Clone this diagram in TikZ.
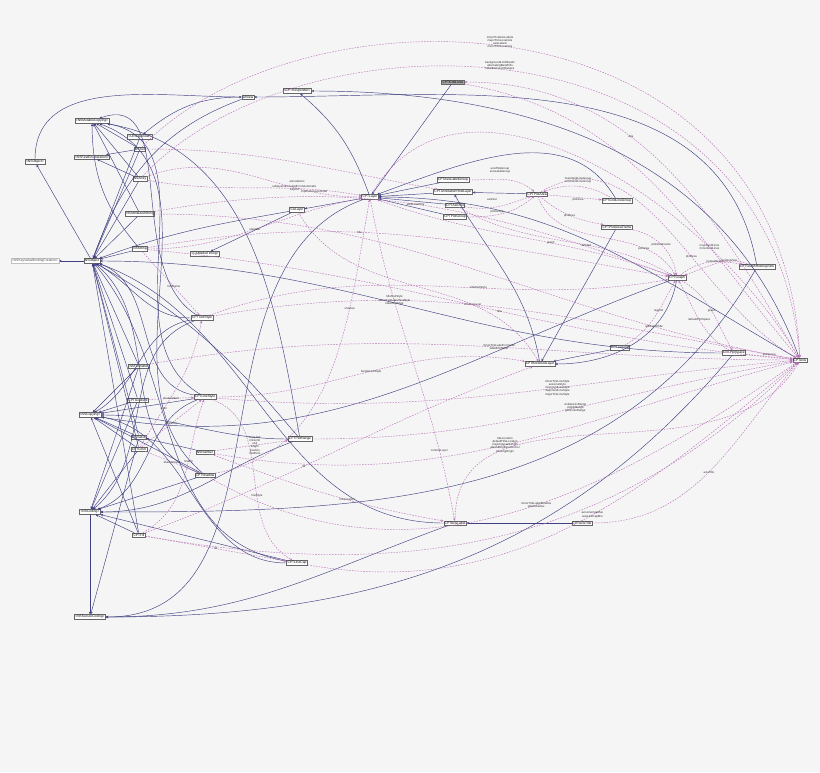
\documentclass[tikz,border=0pt]{standalone}
\usepackage{fontspec}
\setmainfont{Liberation Sans}
\usetikzlibrary{arrows.meta}
\begin{document}
\begin{tikzpicture}[x=1pt,y=-1pt,
 cls/.style={draw=black!60,fill=white,line width=0.5pt,inner sep=0.9pt,font=\fontsize{3.3}{3.8}\selectfont},
 root/.style={cls,fill=black!35},
 grey/.style={cls,draw=black!25,text=black!70},
 inh/.style={draw=blue!35!black!75,line width=0.45pt,-{Stealth[length=2.6pt,width=2.4pt]}},
 use/.style={draw=violet!55!white,dashed,dash pattern=on 1.6pt off 1.2pt,line width=0.45pt,-{Stealth[length=2.6pt,width=2.4pt]}},
 lbl/.style={font=\fontsize{2.9}{3.2}\selectfont,align=center,text=black!80,inner sep=0.5pt}]
\fill[white!96!black] (0,0) rectangle (820,772);
\useasboundingbox (0,0) rectangle (820,772);
% nodes
\node[cls] (pNSObject) at (35,162) {<NSObject>};
\node[cls] (MutCopy) at (92,121) {<NSMutableCopying>};
\node[cls] (UIResp) at (140,137) {<UIResponder>};
\node[cls] (NSSet) at (140,149) {NSSet};
\node[cls] (FastEnum) at (92,157) {<NSFastEnumeration>};
\node[cls] (NSArray) at (140,179) {NSArray};
\node[cls] (NSAttr) at (140,214) {NSAttributedString};
\node[cls] (NSString) at (140,249) {NSString};
\node[cls] (NSObject) at (92,261) {NSObject};
\node[grey] (KVB) at (35,261) {<NSKeyValueBindingCreation>};
\node[cls] (CAMT) at (205,254) {<CAMediaTiming>};
\node[cls] (TextStyle) at (202,318) {CPTTextStyle};
\node[cls] (NSFormatter) at (139,366) {NSFormatter};
\node[cls] (Gradient) at (138,400) {CPTGradient};
\node[cls] (LineStyle) at (205,397) {CPTLineStyle};
\node[cls] (NSCopying) at (90,415) {<NSCopying>};
\node[cls] (NSValue) at (139,437) {NSValue};
\node[cls] (Color) at (139,449) {CPTColor};
\node[cls] (NSNumber) at (205,452) {NSNumber};
\node[cls] (Shadow) at (205,475) {CPTShadow};
\node[cls] (NSCoding) at (90,512) {<NSCoding>};
\node[cls] (Fill) at (139,535) {CPTFill};
\node[cls] (PlotRange) at (300,439) {CPTPlotRange};
\node[cls] (LineCap) at (297,563) {CPTLineCap};
\node[cls] (SecCoding) at (90,617) {<NSSecureCoding>};
\node[cls] (UIView) at (248,97) {UIView};
\node[cls] (Responder) at (297,91) {<CPTResponder>};
\node[root] (GridLines) at (453,82) {CPTGridLines};
\node[cls] (Layer) at (370,197) {CPTLayer};
\node[cls] (CALayer) at (297,210) {CALayer};
\node[cls] (AxLblGroup) at (453,180) {CPTAxisLabelGroup};
\node[cls] (AnnHost) at (453,192) {CPTAnnotationHostLayer};
\node[cls] (AxisSet) at (455,205) {CPTAxisSet};
\node[cls] (PlotGroup) at (455,217) {CPTPlotGroup};
\node[cls] (PlotArea) at (537,194) {CPTPlotArea};
\node[cls] (GridGroup) at (617,201) {CPTGridLineGroup};
\node[cls] (PAFrame) at (617,227) {CPTPlotAreaFrame};
\node[cls] (Graph) at (677,278) {CPTGraph};
\node[cls] (HostView) at (757,267) {CPTGraphHostingView};
\node[cls] (Legend) at (620,348) {CPTLegend};
\node[cls] (Bordered) at (540,364) {CPTBorderedLayer};
\node[cls] (PlotSpace) at (734,353) {CPTPlotSpace};
\node[cls] (Axis) at (800,360) {CPTAxis};
\node[cls] (AxisLabel) at (455,523) {CPTAxisLabel};
\node[cls] (AxisTitle) at (582,523) {CPTAxisTitle};
% inheritance / protocol edges
\draw[inh] (NSObject) -- (pNSObject);
\draw[inh] (NSObject) -- (KVB);
\draw[inh] (NSSet) -- (MutCopy);
\draw[inh] (NSSet) -- (FastEnum);
\draw[inh] (NSSet) -- (NSObject);
\draw[inh] (NSArray) -- (MutCopy);
\draw[inh] (NSArray) -- (FastEnum);
\draw[inh] (NSArray) -- (NSObject);
\draw[inh] (NSAttr) -- (MutCopy);
\draw[inh] (NSAttr) -- (NSObject);
\draw[inh] (NSString) -- (NSObject);
\draw[inh] (NSString) to[bend left=20] (MutCopy);
\draw[inh] (UIResp) -- (NSObject);
\draw[inh] (UIView) to[out=180,in=40] (UIResp);
\draw[inh] (UIView) to[out=200,in=70] (NSObject);
\draw[inh] (CALayer) -- (CAMT);
\draw[inh] (CALayer) to[out=190,in=20] (NSObject);
\draw[inh] (TextStyle) to[out=180,in=-30] (NSObject);
\draw[inh] (TextStyle) to[out=190,in=30] (NSCopying);
\draw[inh] (TextStyle) to[out=200,in=40] (NSCoding);
\draw[inh] (TextStyle) to[out=150,in=20] (MutCopy);
\draw[inh] (NSFormatter) -- (NSObject);
\draw[inh] (NSFormatter) -- (NSCopying);
\draw[inh] (NSFormatter) -- (NSCoding);
\draw[inh] (Gradient) -- (NSObject);
\draw[inh] (Gradient) -- (NSCopying);
\draw[inh] (Gradient) -- (NSCoding);
\draw[inh] (LineStyle) to[out=170,in=-20] (NSObject);
\draw[inh] (LineStyle) -- (NSCopying);
\draw[inh] (LineStyle) to[out=200,in=20] (NSCoding);
\draw[inh] (LineStyle) to[out=150,in=-10] (MutCopy);
\draw[inh] (NSValue) -- (NSObject);
\draw[inh] (NSValue) -- (NSCopying);
\draw[inh] (NSValue) -- (SecCoding);
\draw[inh] (NSNumber) -- (NSValue);
\draw[inh] (Color) -- (NSObject);
\draw[inh] (Color) -- (NSCopying);
\draw[inh] (Color) -- (NSCoding);
\draw[inh] (Shadow) to[out=160,in=-40] (NSObject);
\draw[inh] (Shadow) -- (NSCopying);
\draw[inh] (Shadow) -- (NSCoding);
\draw[inh] (Shadow) to[out=140,in=-20] (MutCopy);
\draw[inh] (Fill) -- (NSObject);
\draw[inh] (Fill) -- (NSCopying);
\draw[inh] (Fill) -- (NSCoding);
\draw[inh] (PlotRange) to[out=180,in=0] (NSCopying);
\draw[inh] (PlotRange) to[out=200,in=0] (NSCoding);
\draw[inh] (PlotRange) to[out=130,in=-30] (NSObject);
\draw[inh] (PlotRange) to[out=100,in=-10] (MutCopy);
\draw[inh] (LineCap) to[out=180,in=-10] (NSCopying);
\draw[inh] (LineCap) -- (NSCoding);
\draw[inh] (LineCap) to[out=170,in=-50] (NSObject);
\draw[inh] (NSCoding) -- (SecCoding);
\draw[inh] (Layer) -- (CALayer);
\draw[inh] (Layer) to[out=110,in=-40] (Responder);
\draw[inh] (Layer) to[out=200,in=0] (SecCoding);
\draw[inh] (GridLines) -- (Layer);
\draw[inh] (AxLblGroup) -- (Layer);
\draw[inh] (AnnHost) -- (Layer);
\draw[inh] (AxisSet) -- (Layer);
\draw[inh] (PlotGroup) -- (Layer);
\draw[inh] (GridGroup) to[out=120,in=20] (Layer);
\draw[inh] (PlotArea) -- (AnnHost);
\draw[inh] (Bordered) to[out=100,in=-60] (AnnHost);
\draw[inh] (PAFrame) -- (Bordered);
\draw[inh] (Legend) -- (Bordered);
\draw[inh] (Graph) to[out=260,in=0] (Bordered);
\draw[inh] (Axis) to[out=150,in=0] (Layer);
\draw[inh] (HostView) to[out=100,in=0] (UIView);
\draw[inh] (Axis) to[out=110,in=0] (Responder);
\draw[inh] (PlotSpace) to[out=180,in=0] (NSObject);
\draw[inh] (PlotSpace) to[out=230,in=0] (SecCoding);
\draw[inh] (AxisTitle) -- (AxisLabel);
\draw[inh] (AxisLabel) to[out=180,in=-20] (NSObject);
\draw[inh] (AxisLabel) to[out=200,in=0] (SecCoding);
\draw[inh] (HostView) to[out=240,in=0] (NSCoding);
\draw[inh] (Graph) to[out=200,in=-10] (NSCopying);
\draw[inh] (pNSObject) to[out=90,in=180] (UIView);
% usage edges
\draw[use] (NSString) -- node[lbl,pos=0.55]{fontName} (TextStyle);
\draw[use] (Color) to[out=60,in=-100] node[lbl,pos=0.3]{color} (TextStyle);
\draw[use] (Color) -- node[lbl]{lineColor} (LineStyle);
\draw[use] (Gradient) -- node[lbl]{lineGradient} (LineStyle);
\draw[use] (Fill) to[out=30,in=-110] node[lbl,pos=0.6]{lineFill} (LineStyle);
\draw[use] (Color) -- node[lbl]{shadowColor} (Shadow);
\draw[use] (LineStyle) to[out=-20,in=150] node[lbl,pos=0.6]{lineStyle} (LineCap);
\draw[use] (Fill) -- node[lbl]{fill} (LineCap);
\draw[use] (NSNumber) -- node[lbl,pos=0.55]{maxLimit\\minLimit\\end\\length\\location\\midPoint} (PlotRange);
\draw[use] (Shadow) to[out=10,in=-100] node[lbl,pos=0.7]{shadow} (Layer);
\draw[use] (NSString) to[out=0,in=190] node[lbl,pos=0.5]{identifier} (Layer);
\draw[use] (NSArray) to[out=-10,in=170] node[lbl,pos=0.7]{sublayersExcludedFromAutomatic\\Layout} (Layer);
\draw[use] (NSArray) to[out=20,in=180] node[lbl,pos=0.8]{topDownLayerOrder} (Layer);
\draw[use] (NSSet) to[out=0,in=170] (AnnHost);
\node[lbl] (lAnn) at (297,181) {annotations};
\draw[use] (Graph) to[out=160,in=-20] node[lbl,pos=0.4]{graph} (Layer);
\draw[use] (AxisSet) to[out=-10,in=200] (PlotArea);
\node[lbl] (lAxisSet) at (492,199) {axisSet};
\draw[use] (PlotGroup) to[out=0,in=220] (PlotArea);
\node[lbl] (lPlotGroup) at (497,212) {plotGroup};
\draw[use] (AxLblGroup) to[out=0,in=140] (PlotArea);
\node[lbl] (lAxTG) at (500,170) {axisTitleGroup\\axisLabelGroup};
\draw[use] (GridGroup) to[out=150,in=20] (PlotArea);
\node[lbl] (lGG) at (578,180) {majorGridLineGroup\\minorGridLineGroup};
\draw[use] (PlotArea) -- (GridGroup);
\node[lbl] (lPA1) at (578,200) {plotArea};
\draw[use] (PlotArea) to[out=-40,in=170] node[lbl,pos=0.5]{plotArea} (PAFrame);
\draw[use] (PAFrame) to[out=-10,in=100] node[lbl,pos=0.5]{plotAreaFrame} (Graph);
\draw[use] (Legend) to[out=30,in=-120] node[lbl,pos=0.6]{legend} (Graph);
\draw[use] (Graph) to[out=40,in=170] node[lbl,pos=0.6]{hostedGraph} (HostView);
\draw[use] (HostView) to[out=160,in=20] node[lbl,pos=0.3]{hostingView} (Graph);
\draw[use] (PlotSpace) to[out=150,in=-60] node[lbl,pos=0.5]{defaultPlotSpace} (Graph);
\draw[use] (Graph) to[out=-30,in=120] node[lbl,pos=0.5]{graph} (PlotSpace);
\draw[use] (TextStyle) to[out=20,in=190] node[lbl,pos=0.6]{titleTextStyle} (Graph);
\draw[use] (NSString) to[out=10,in=170] node[lbl,pos=0.4]{title} (Graph);
\draw[use] (NSAttr) to[out=10,in=160] node[lbl,pos=0.5]{attributedTitle} (Graph);
\draw[use] (AxisSet) to[out=-30,in=150] node[lbl,pos=0.6]{axisSet} (Graph);
\draw[use] (PlotArea) to[out=-70,in=120] node[lbl,pos=0.75]{plotArea} (Graph);
\draw[use] (Fill) to[out=20,in=200] node[lbl,pos=0.4]{fill} (Bordered);
\draw[use] (LineStyle) to[out=0,in=170] node[lbl,pos=0.5]{borderLineStyle} (Bordered);
\draw[use] (Layer) to[out=-80,in=100] node[lbl,pos=0.8]{contentLayer} (AxisLabel);
\draw[use] (NSNumber) to[out=-20,in=170] node[lbl,pos=0.6]{tickLocation} (AxisLabel);
\draw[use] (CALayer) to[out=-60,in=120] node[lbl,pos=0.7]{shadowLayer} (Bordered);
% to CPTAxis
\draw[use] (NSSet) .. controls (300,-18) and (780,-18) .. (Axis);
\node[lbl] (lSet) at (500,42) {minorTickAxisLabels\\majorTickLocations\\axisLabels\\minorTickLocations};
\draw[use] (NSArray) .. controls (300,7) and (770,7) .. (Axis);
\node[lbl] (lArr) at (500,66) {backgroundLimitBands\\alternatingBandFills\\labelExclusionRanges};
\draw[use] (Axis) to[out=120,in=0] node[lbl,pos=0.6]{axis} (GridLines);
\draw[use] (GridLines) to[out=-10,in=130] node[lbl,pos=0.7]{majorGridLines\\minorGridLines} (Axis);
\draw[use] (PlotArea) to[out=30,in=150] node[lbl,pos=0.6]{plotArea} (Axis);
\draw[use] (TextStyle) to[out=10,in=170] node[lbl,pos=0.3]{titleTextStyle\\minorTickLabelTextStyle\\labelTextStyle} (Axis);
\draw[use] (NSFormatter) to[out=10,in=180] node[lbl,pos=0.55]{minorTickLabelFormatter\\labelFormatter} (Axis);
\draw[use] (LineStyle) to[out=-5,in=185] node[lbl,pos=0.6]{minorTickLineStyle\\axisLineStyle\\minorGridLineStyle\\majorGridLineStyle\\majorTickLineStyle} (Axis);
\draw[use] (PlotRange) to[out=0,in=190] node[lbl,pos=0.55]{visibleAxisRange\\visibleRange\\gridLinesRange} (Axis);
\draw[use] (NSNumber) to[out=-10,in=195] node[lbl,pos=0.5]{titleLocation\\defaultTitleLocation\\majorIntervalLength\\alternatingBandAnchor\\labelingOrigin} (Axis);
\draw[use] (AxisTitle) to[out=0,in=230] node[lbl,pos=0.5]{axisTitle} (Axis);
\draw[use] (Shadow) to[out=-30,in=215] node[lbl,pos=0.55]{minorTickLabelShadow\\labelShadow} (Axis);
\draw[use] (LineCap) to[out=-10,in=220] node[lbl,pos=0.55]{axisLineCapMax\\axisLineCapMin} (Axis);
\draw[use] (PlotSpace) -- node[lbl,above]{plotSpace} (Axis);
\draw[use] (Fill) to[out=-10,in=225] (Axis);
\draw[use] (NSAttr) to[out=0,in=170] node[lbl,pos=0.8]{attributedTitle} (Axis);
\draw[use] (NSString) to[out=-5,in=175] node[lbl,pos=0.55]{title} (Axis);
\draw[use] (Layer) to[out=60,in=120] (Axis);
\draw[use] (AxisLabel) to[out=90,in=240] (Axis);
\end{tikzpicture}
\end{document}
